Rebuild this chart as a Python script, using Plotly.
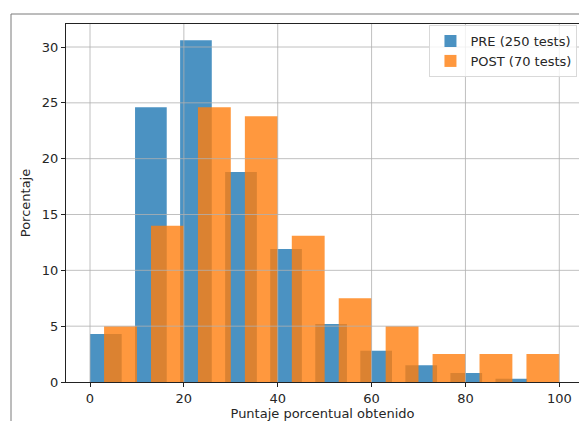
import plotly.graph_objects as go

# ---- data ----
PRE_LABEL = "PRE (250 tests)"
POST_LABEL = "POST (70 tests)"
PRE_BIN_START = 0.0
PRE_BIN_WIDTH = 9.6
PRE_BAR_WIDTH = 6.75
PRE_PCT = [4.3, 24.6, 30.6, 18.8, 11.9, 5.2, 2.8, 1.5, 0.8, 0.3]

POST_BIN_START = 3.0
POST_BIN_WIDTH = 10.0
POST_BAR_WIDTH = 7.0
POST_PCT = [5.0, 14.0, 24.6, 23.8, 13.1, 7.5, 5.0, 2.5, 2.5, 2.5]

X_TICKS = [0, 20, 40, 60, 80, 100]
Y_TICKS = [0, 5, 10, 15, 20, 25, 30]
X_TITLE = "Puntaje porcentual obtenido"
Y_TITLE = "Porcentaje"

pre_x = [PRE_BIN_START + i * PRE_BIN_WIDTH + PRE_BAR_WIDTH / 2 for i in range(len(PRE_PCT))]
post_x = [POST_BIN_START + i * POST_BIN_WIDTH + POST_BAR_WIDTH / 2 for i in range(len(POST_PCT))]

FONT = "DejaVu Sans"
FS = 13

fig = go.Figure()
fig.add_trace(go.Bar(x=pre_x, y=PRE_PCT, width=PRE_BAR_WIDTH, name=PRE_LABEL,
                     marker=dict(color="#1f77b4", line=dict(width=0)), opacity=0.8))
fig.add_trace(go.Bar(x=post_x, y=POST_PCT, width=POST_BAR_WIDTH, name=POST_LABEL,
                     marker=dict(color="#ff7f0e", line=dict(width=0)), opacity=0.8))

W, H = 579, 421
ML, MR, MT, MB = 66, 0, 24, 39
px_per_x = 4.693
x0_px = 90.0
x_lo = PRE_BIN_START - (x0_px - ML) / px_per_x
x_hi = PRE_BIN_START + (W - MR - x0_px) / px_per_x

shapes = []
for t in X_TICKS:
    shapes.append(dict(type="line", xref="x", yref="paper", x0=t, x1=t, y0=0, y1=1,
                       line=dict(color="#b0b0b0", width=0.8), layer="above"))
for t in Y_TICKS[1:]:
    shapes.append(dict(type="line", xref="paper", yref="y", x0=0, x1=1, y0=t, y1=t,
                       line=dict(color="#b0b0b0", width=0.8), layer="above"))

# notebook output frame (outer border)
pw = W - ML - MR
ph = H - MT - MB
fx = (11 - ML) / pw
fy_top = (H - MB - 14) / ph
fy_bot = (H - MB - H - 5) / ph
shapes.append(dict(type="line", xref="paper", yref="paper", x0=fx, x1=fx, y0=fy_bot, y1=fy_top,
                   line=dict(color="#7a7a7a", width=1), layer="above"))
shapes.append(dict(type="line", xref="paper", yref="paper", x0=fx, x1=1.2, y0=fy_top, y1=fy_top,
                   line=dict(color="#7a7a7a", width=1), layer="above"))

fig.update_layout(
    width=W, height=H,
    margin=dict(l=ML, r=MR, t=MT, b=MB, autoexpand=False),
    paper_bgcolor="white", plot_bgcolor="white",
    barmode="overlay",
    font=dict(family=FONT, size=FS, color="#262626"),
    showlegend=True,
    legend=dict(x=0.997, y=0.997, xanchor="right", yanchor="top",
                bgcolor="rgba(255,255,255,0.8)", bordercolor="#d9d9d9", borderwidth=1,
                font=dict(family=FONT, size=FS, color="#262626"),
                itemwidth=30, tracegroupgap=0),
    shapes=shapes,
    xaxis=dict(range=[x_lo, x_hi], tickvals=X_TICKS, ticktext=[str(t) for t in X_TICKS],
               showgrid=False, zeroline=False, showline=True, linecolor="#222", linewidth=1,
               mirror=True, ticks="outside", ticklen=4, tickcolor="#222", tickwidth=0.8,
               tickfont=dict(family=FONT, size=FS, color="#262626"),
               title=dict(text=X_TITLE, standoff=5, font=dict(family=FONT, size=FS, color="#262626"))),
    yaxis=dict(range=[0, 32.06], tickvals=Y_TICKS, ticktext=[str(t) for t in Y_TICKS],
               showgrid=False, zeroline=False, showline=True, linecolor="#222", linewidth=1,
               mirror=False, ticks="outside", ticklen=4, tickcolor="#222", tickwidth=0.8,
               tickfont=dict(family=FONT, size=FS, color="#262626"),
               title=dict(text=Y_TITLE, standoff=8, font=dict(family=FONT, size=FS, color="#262626"))),
)

fig.write_html("out.html", config={"displayModeBar": False},
               post_script="document.body.style.margin='0';document.body.style.overflow='hidden';")
